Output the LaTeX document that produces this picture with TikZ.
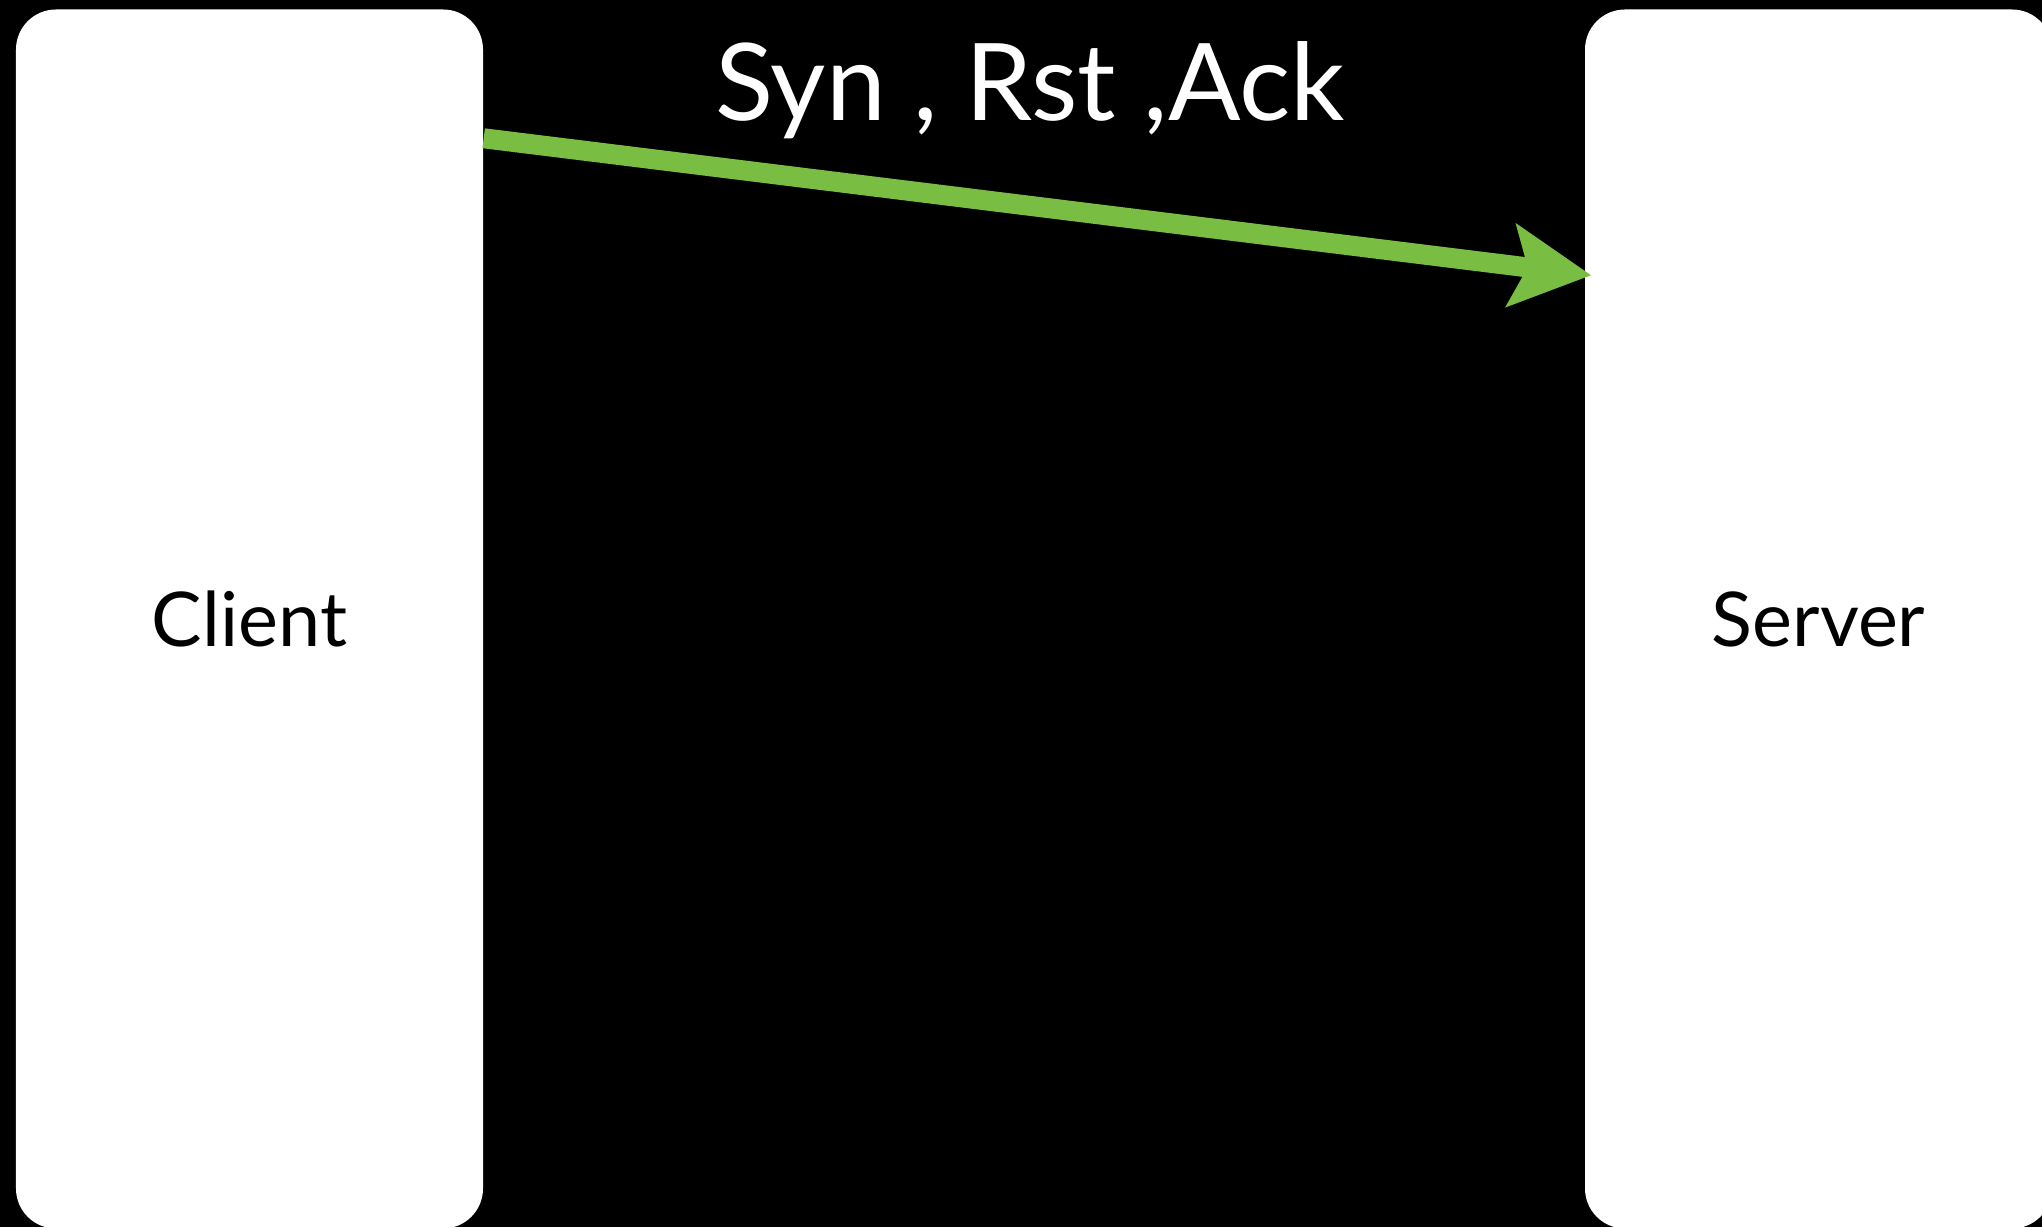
\documentclass[tikz,border=0pt]{standalone}
\usepackage{fontspec}
\setmainfont{Lato}
\usetikzlibrary{arrows.meta}
\definecolor{flaggreen}{RGB}{121,190,66}

\begin{document}
\begin{tikzpicture}
	[host/.style={rectangle,fill=white,rounded corners=0.4cm,minimum width=4.67cm,minimum height=12.19cm,inner sep=0pt,font=\fontsize{21.5}{26}\selectfont},
	packet/.style={line width=0.2cm,flaggreen,-{Stealth[length=0.8cm,width=0.82cm,inset=0.16cm]}}]
	\fill[black] (0,0) rectangle (20.42,12.27);
	\useasboundingbox (0,0) rectangle (20.42,12.27);
	\node (client) [host] at (2.495,6.08) {Client};
	\node (server) [host] at (18.185,6.08) {Server};
	\node (flags) [text=white,font=\fontsize{30.5}{36}\selectfont] at (10.30,11.37) {Syn , Rst ,Ack};
	\draw [packet] ([yshift=-1.295cm]client.north east) -- ([xshift=0.07cm,yshift=-2.665cm]server.north west);
\end{tikzpicture}
\end{document}
